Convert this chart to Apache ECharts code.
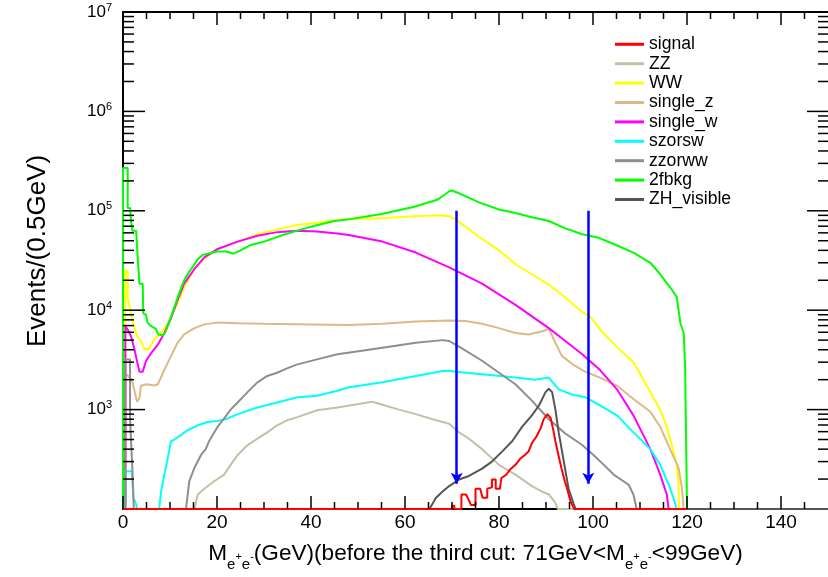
<!DOCTYPE html>
<html><head><meta charset="utf-8">
<script src="https://cdn.jsdelivr.net/npm/echarts@6/dist/echarts.min.js"></script>
<style>html,body{margin:0;padding:0;background:#fff}#c{width:828px;height:577px}</style>
</head><body><div id="c"></div>
<script>
// ---- data: [M_ee (GeV), events per 0.5 GeV]; 100 = empty bin (drawn at axis floor)
const seriesNames = ['signal','ZZ','WW','single_z','single_w','szorsw','zzorww','2fbkg','ZH_visible'];
const seriesColors = ['#ff0000','#c4c0a6','#ffff00','#deb887','#ff00ff','#00ffff','#8e8e8e','#00ff00','#555555'];

const signalData = [[0,100],[70,100],[70,108],[70.5,108],[70.5,100],[72,100],[72,140],[73,140],[73.5,125],[74,110],[75,110],[75,160],[76,160],[76.5,130],[77.5,130],[77.5,160],[78.5,165],[78.5,198],[79.3,198],[79.3,160],[80.2,160],[80.5,205],[81.5,220],[82.3,248],[83.5,278],[84.5,320],[85.5,350],[86.3,380],[87,460],[88,540],[88.8,640],[89.5,800],[90.3,900],[91,820],[91.5,640],[92,480],[92.7,340],[93.3,255],[94,190],[94.5,160],[95.2,120],[96,100],[120,100]];
const zzData = [[0,100],[15.2,100],[15.9,140],[17.3,160],[19.4,190],[21.5,222],[22.9,278],[24.4,350],[26.5,440],[28.6,510],[30.7,590],[32.8,695],[34.9,780],[37.1,840],[41.3,985],[45.6,1050],[49.8,1130],[53,1200],[55.2,1120],[58.7,1000],[62.3,900],[65.9,800],[69.4,720],[71.5,590],[73.6,510],[76.4,400],[80,278],[83.5,222],[87,170],[89.1,150],[90.6,140],[92,115],[92.5,100],[150,100]];
const wwData = [[0,100],[0.5,100],[0.5,25000],[1,25000],[1,13000],[1.5,10500],[2,8000],[2.5,6500],[3,5500],[4,4700],[4.5,4100],[5.3,4000],[6,4500],[7,5300],[8,5900],[9.5,7300],[11.6,11700],[13,17000],[15.2,26000],[17.3,33000],[20,41000],[24.4,49000],[28.6,58000],[32.8,65000],[37,72000],[41.3,76000],[45.6,81000],[49.8,83000],[55,84000],[62,88000],[67,90000],[69.4,88000],[70.8,82000],[72.2,73000],[76.4,52000],[80,40000],[83.5,29000],[87,23000],[90.6,18000],[94,13600],[97.7,9600],[99.5,8500],[101.5,6400],[105,4300],[108.6,3000],[110.7,2000],[112.2,1500],[114.3,1000],[115.7,670],[117,400],[117.8,280],[118.2,180],[118.3,100],[150,100]];
const singleZData = [[0,100],[0.5,100],[0.5,2300],[1.5,2100],[2,1900],[2.5,1500],[3,1200],[3.5,1300],[3.8,1740],[5,1800],[6.7,1750],[7.4,1800],[8.8,2500],[10.2,3450],[11.6,4700],[13,5700],[15.2,6600],[17.3,7200],[20,7500],[24.4,7400],[30,7300],[40,7200],[48,7100],[55.2,7300],[62.3,7700],[69.4,7900],[72.9,7800],[76.4,7300],[80,6600],[83.5,5900],[86.3,5700],[89.1,6100],[90.6,6500],[92,4700],[93.4,3450],[96.2,2750],[98.4,2400],[101.5,2100],[105.1,1740],[108.6,1280],[112.2,950],[114.3,670],[116.4,400],[118.2,260],[118.9,165],[119.3,100],[150,100]];
const singleWData = [[0,100],[0.5,100],[0.5,6900],[1,6400],[1.7,5500],[2.4,4100],[3.1,2900],[3.5,2400],[4.2,2400],[4.9,3100],[6,3700],[7.4,4500],[8.8,5900],[10.2,8300],[11.6,12600],[13,18500],[15.2,26000],[17.3,34000],[20,41000],[24.4,49000],[28.6,56000],[32.8,61000],[37,63000],[41.3,62000],[45.6,59000],[48,57000],[55.2,49000],[62.3,38000],[69.4,27000],[76.4,18500],[83.5,11300],[90.6,6600],[94.1,4900],[97.7,3600],[101.5,2500],[105.1,1600],[108.6,875],[112.2,400],[114.3,222],[115.7,140],[116.1,100],[150,100]];
const szorswData = [[0,100],[0.5,100],[0.5,240],[1.9,240],[2.2,130],[2.8,112],[3,100],[7.7,100],[8.1,150],[8.8,222],[9.5,320],[9.9,400],[10.2,480],[10.9,500],[12.3,553],[13.7,620],[15.9,695],[18,750],[20.1,770],[22.2,810],[24.4,900],[28.6,1050],[32.8,1180],[37.1,1330],[41.3,1380],[45.6,1550],[48.1,1680],[55.2,1880],[62.3,2180],[68,2450],[69.4,2450],[76.4,2270],[83.5,2100],[87.7,2000],[90.6,2100],[92.7,1600],[95.5,1420],[98.4,1330],[101.5,1100],[105.1,875],[108.6,590],[112.2,400],[114.3,278],[116.1,176],[117.1,130],[117.8,100],[150,100]];
const zzorwwData = [[0,100],[0.5,100],[0.5,3200],[1.5,3200],[1.5,800],[2,250],[2.3,100],[13.4,100],[14.1,190],[15.2,260],[16.6,350],[17.6,400],[18.3,480],[20.1,670],[21.5,810],[22.9,1000],[24.4,1180],[26.5,1500],[28.6,1880],[30.7,2180],[32.8,2350],[34.9,2600],[37.1,2850],[41.3,3200],[45.6,3600],[49,3800],[55.2,4200],[62.3,4700],[68,5000],[69.4,4900],[71.5,4300],[76.4,3100],[80,2350],[83.5,1800],[87,1230],[90.6,800],[94.1,575],[97.7,440],[100.1,350],[102.3,278],[104.4,222],[106.5,190],[107.6,175],[108.6,140],[109.3,100],[150,100]];
const bkg2fData = [[0,100],[0,270000],[1,270000],[1,107000],[1.5,107000],[1.7,80000],[2,63000],[2.8,63000],[3.1,35000],[3.5,18500],[4.2,18500],[4.3,9300],[4.9,9000],[5.2,7500],[6,6900],[7,6500],[7.5,5700],[8.5,5600],[9,6000],[10,8000],[11,11000],[12,15000],[13,20000],[14,24000],[15,28000],[16,33000],[17,36000],[18,37000],[20,39000],[22,39000],[23.5,37000],[25,40000],[27,45000],[30,49000],[34,57000],[38,65000],[41,71000],[45,79000],[48,82000],[55,93000],[62,110000],[67,130000],[69.5,158000],[70,160000],[71.5,150000],[76,120000],[80,103000],[83.5,95000],[87,86000],[90.6,79000],[94,67000],[97.7,58000],[101,54000],[105,45000],[108.6,38000],[112.2,30000],[114.3,23000],[116.4,17000],[117.8,13600],[118.6,7400],[119.3,5900],[119.6,2700],[120,2700],[120,100],[150,100]];
const zhData = [[0,100],[65.2,100],[66.6,130],[68,150],[69.4,170],[71.5,198],[73.6,215],[76.4,255],[78.5,300],[80.7,380],[82.8,480],[84.9,670],[87,875],[88.5,1100],[89.9,1500],[90.6,1620],[91.3,1500],[92,1000],[92.7,590],[93.8,300],[94.8,160],[95.9,112],[96.3,100],[150,100]];
const seriesData = [signalData, zzData, wwData, singleZData, singleWData, szorswData, zzorwwData, bkg2fData, zhData];

// cut arrows
const arrowX = [71, 99];
const arrowTop = 100000;
const arrowBottom = 180;

// axis ranges and ticks
const xMin = 0, xMax = 150, yMin = 100, yMax = 10000000;
const xMajorTicks = [0,20,40,60,80,100,120,140];
const xMinorTicks = [5,10,15,25,30,35,45,50,55,65,70,75,85,90,95,105,110,115,125,130,135,145];
const yMajorTicks = [1000,10000,100000,1000000];
const yLabelTicks = [1000,10000,100000,1000000,10000000];
const yDecades = [100,1000,10000,100000,1000000];
const yMults = [2,3,4,5,6,7,8,9];
const yMinorTicks = [];
yDecades.forEach(d => yMults.forEach(m => yMinorTicks.push(d*m)));

const tickItems = [];
xMajorTicks.forEach(v => tickItems.push({ax:'x', v:v, a:13, b:13}));
xMinorTicks.forEach(v => tickItems.push({ax:'x', v:v, a:7, b:7}));
yMajorTicks.forEach(v => tickItems.push({ax:'y', v:v, a:22, b:21}));
yMinorTicks.forEach(v => tickItems.push({ax:'y', v:v, a:11, b:10}));

const FONT = 'Liberation Sans, Arial, Helvetica, sans-serif';
const chart = echarts.init(document.getElementById('c'), null, {renderer:'canvas'});
const lineBlack = {show:true, lineStyle:{color:'#000', width:2}};

const series = seriesNames.map((n,i) => ({
  name:n, type:'line', data:seriesData[i], color:seriesColors[i],
  showSymbol:false, symbol:'none', animation:false, clip:true,
  lineStyle:{color:seriesColors[i], width:2}, z: (n==='signal'?4:2)
}));
series.push({
  name:'cuts', type:'line', data:[], animation:false, z:5,
  markLine:{
    silent:true, animation:false, symbol:['none','arrow'], symbolSize:[9,11],
    label:{show:false}, lineStyle:{color:'#0000ff', width:2.5, type:'solid'},
    emphasis:{disabled:true},
    data: arrowX.map(x => [{coord:[x, arrowTop]}, {coord:[x, arrowBottom]}])
  }
});
series.push({
  name:'ticks', type:'custom', animation:false, silent:true, clip:false, z:6,
  data: tickItems.map(() => [75, 1000]),
  renderItem: function(params, api){
    const t = tickItems[params.dataIndex];
    const st = {stroke:'#000', lineWidth:1.5};
    if (t.ax === 'x') {
      const p0 = api.coord([t.v, yMin]);
      const p1 = api.coord([t.v, yMax]);
      return {type:'group', children:[
        {type:'line', shape:{x1:p0[0], y1:p0[1], x2:p0[0], y2:p0[1]-t.a}, style:st},
        {type:'line', shape:{x1:p1[0], y1:p1[1], x2:p1[0], y2:p1[1]+t.b}, style:st}
      ]};
    }
    const q0 = api.coord([xMin, t.v]);
    const q1 = api.coord([xMax, t.v]);
    return {type:'group', children:[
      {type:'line', shape:{x1:q0[0], y1:q0[1], x2:q0[0]+t.a, y2:q0[1]}, style:st},
      {type:'line', shape:{x1:q1[0], y1:q1[1], x2:q1[0]-t.b, y2:q1[1]}, style:st}
    ]};
  }
});

chart.setOption({
  animation:false,
  backgroundColor:'#fff',
  grid:{left:123, right:-2, top:12, bottom:63},
  legend:{
    data:seriesNames, orient:'vertical', left:615, top:34.6, padding:0,
    icon:'rect', itemWidth:29, itemHeight:3, itemGap:0,
    textStyle:{fontFamily:FONT, fontSize:17.6, color:'#000', lineHeight:19.4}
  },
  xAxis:[
    {type:'value', min:xMin, max:xMax, position:'bottom', axisLine:lineBlack, splitLine:{show:false},
      axisTick:{show:false},
      axisLabel:{show:true, customValues:xMajorTicks, fontFamily:FONT, fontSize:19, color:'#000', margin:4},
      name:'{t|M}{sb|e}{sp|+}{sb|e}{sp|-}{t|(GeV)(before the third cut: 71GeV<M}{sb|e}{sp|+}{sb|e}{sp|-}{t|<99GeV)}',
      nameLocation:'middle', nameGap:26,
      nameTextStyle:{fontFamily:FONT, color:'#000', rich:{
        t:{fontFamily:FONT, fontSize:22.6, color:'#000'},
        sb:{fontFamily:FONT, fontSize:15, color:'#000', padding:[22,0,0,0]},
        sp:{fontFamily:FONT, fontSize:11, color:'#000', padding:[6,0,0,0]}
      }}
    },
    {type:'value', min:xMin, max:xMax, position:'top', axisLine:lineBlack, splitLine:{show:false},
      axisTick:{show:false}, axisLabel:{show:false}}
  ],
  yAxis:[
    {type:'log', logBase:10, min:yMin, max:yMax, position:'left', axisLine:lineBlack, splitLine:{show:false},
      axisTick:{show:false},
      axisLabel:{show:true, customValues:yLabelTicks, margin:11,
        formatter: v => '{b|10}{s|' + Math.round(Math.log10(v)) + '}',
        rich:{
          b:{fontFamily:FONT, fontSize:17, color:'#000'},
          s:{fontFamily:FONT, fontSize:11, color:'#000', padding:[0,0,9,0]}
        }}
    }
  ],
  graphic:[{
    type:'text', x:38, y:251, rotation:Math.PI/2,
    style:{text:'Events/(0.5GeV)', fontFamily:FONT, fontSize:26, fill:'#000', textAlign:'center', textVerticalAlign:'middle'}
  }],
  series: series
});
</script></body></html>
